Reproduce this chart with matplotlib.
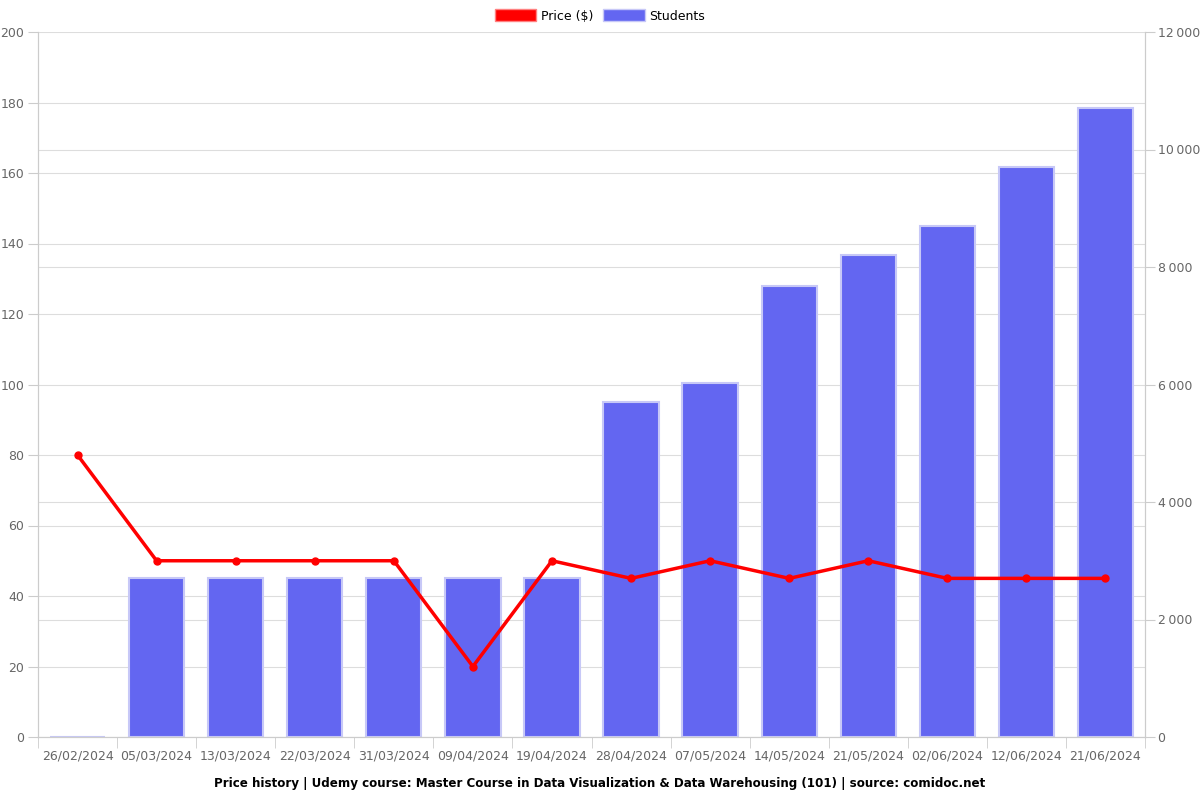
import matplotlib.pyplot as plt
from matplotlib.patches import Patch
import numpy as np

plt.rcParams['font.family'] = ['DejaVu Sans']

dates = ['26/02/2024', '05/03/2024', '13/03/2024', '22/03/2024', '31/03/2024',
         '09/04/2024', '19/04/2024', '28/04/2024', '07/05/2024', '14/05/2024',
         '21/05/2024', '02/06/2024', '12/06/2024', '21/06/2024']
price = [80, 50, 50, 50, 50, 20, 50, 45, 50, 45, 50, 45, 45, 45]
students = [0, 2700, 2700, 2700, 2700, 2700, 2700, 5700, 6030, 7680,
            8200, 8700, 9700, 10710]

title = 'Price history | Udemy course: Master Course in Data Visualization & Data Warehousing (101) | source: comidoc.net'

grid_c = '#dddddd'
tick_c = '#666666'
spine_c = '#cccccc'

fig = plt.figure(figsize=(12, 8), dpi=100)
ax = fig.add_axes([38 / 1200, 1 - 737 / 800, (1145 - 38) / 1200, (737 - 32) / 800])
ax2 = ax.twinx()

x = np.arange(len(dates))

# students bars on the right axis (grids live here so they stay behind bars)
ax2.bar(x, students, width=0.7, color='#6366f1', edgecolor='#c7c8f7', linewidth=1.5, zorder=2)
ax2.set_ylim(0, 12000)
ax2.set_yticks(range(0, 12001, 2000))
ax2.set_yticklabels([f'{v:,}'.replace(',', '\u2009') for v in range(0, 12001, 2000)])
ax2.set_yticks(range(0, 12001, 1200), minor=True)
ax2.yaxis.grid(True, which='both', color=grid_c, linewidth=0.8)
ax2.tick_params(axis='y', which='minor', length=0)
ax2.set_axisbelow(True)

# price line on the left axis
ax.set_zorder(ax2.get_zorder() + 1)
ax.patch.set_visible(False)
ax.plot(x, price, color='#ff0000', linewidth=2.5, marker='o', markersize=5, zorder=3)
ax.set_ylim(0, 200)
ax.set_yticks(range(0, 201, 20))
ax.set_xlim(-0.5, len(dates) - 0.5)
ax.set_xticks(x)
ax.set_xticklabels(dates)
ax.set_xticks(np.arange(-0.5, len(dates)), minor=True)
ax.tick_params(axis='x', which='major', length=0, pad=9)
ax.tick_params(axis='x', which='minor', length=8, color=spine_c)

ax2.set_xticks(np.arange(-0.5, len(dates)), minor=True)
ax2.xaxis.grid(True, which='minor', color=grid_c, linewidth=0.8)

for a in (ax, ax2):
    a.tick_params(axis='y', labelcolor=tick_c, labelsize=9, length=7, width=0.8,
                  color=spine_c, pad=3)
    a.tick_params(axis='x', labelcolor=tick_c, labelsize=9)
    a.spines['top'].set_visible(False)
    for side in ('left', 'right', 'bottom'):
        a.spines[side].set_color(spine_c)
ax2.tick_params(axis='y', pad=2)

handles = [Patch(facecolor='#ff0000', edgecolor='#ff8080', label='Price ($)'),
           Patch(facecolor='#6366f1', edgecolor='#c7c8f7', label='Students')]
fig.legend(handles=handles, loc='center', bbox_to_anchor=(0.5, 1 - 16 / 800), ncol=2,
           frameon=False, fontsize=9, handlelength=3.3, handleheight=1.1, columnspacing=0.8,
           handletextpad=0.4)

fig.text(0.5, 1 - 783 / 800, title, ha='center', va='center', fontsize=8.6, fontweight='bold')

plt.savefig('out.png')
